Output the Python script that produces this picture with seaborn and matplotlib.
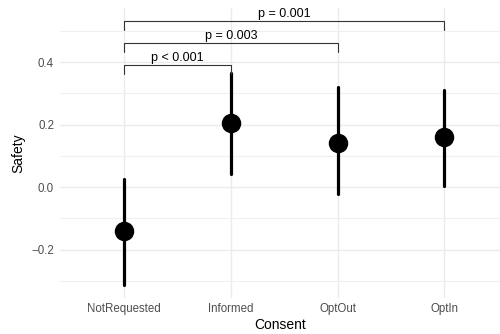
import numpy as np
import pandas as pd
import matplotlib
matplotlib.use("Agg")
import matplotlib.pyplot as plt
import seaborn as sns

categories = ["NotRequested", "Informed", "OptOut", "OptIn"]
means = [-0.141, 0.204, 0.140, 0.161]
ci_low = [-0.314, 0.042, -0.022, 0.003]
ci_high = [0.025, 0.366, 0.321, 0.310]

comparisons = [("NotRequested", "Informed"), ("NotRequested", "OptOut"), ("NotRequested", "OptIn")]
p_labels = ["p < 0.001", "p = 0.003", "p = 0.001"]
bracket_y = [0.390, 0.462, 0.531]
bracket_drop = 0.029

sns.set_theme(style="whitegrid")
plt.rcParams["font.family"] = ["Liberation Sans", "DejaVu Sans"]

rows = []
for c, lo, m, hi in zip(categories, ci_low, means, ci_high):
    for v in (lo, m, hi):
        rows.append({"Consent": c, "Safety": v})
df = pd.DataFrame(rows)

fig = plt.figure(figsize=(5.0, 3.34), dpi=100)
ax = fig.add_axes([0.12, 0.1078, 0.88, 0.868])

sns.pointplot(data=df, x="Consent", y="Safety", order=categories,
              estimator=np.median, errorbar=("pi", 100),
              color="black", linestyle="none", markersize=12,
              err_kws={"linewidth": 2.3}, ax=ax)

ax.set_xlim(-0.6, 3.52)
ax.set_ylim(-0.355, 0.573)
ax.set_yticks([-0.2, 0.0, 0.2, 0.4])
ax.set_yticklabels(["\u22120.2", "0.0", "0.2", "0.4"])
ax.set_yticks([-0.3, -0.1, 0.1, 0.3, 0.5], minor=True)

ax.set_facecolor("white")
for s in ax.spines.values():
    s.set_visible(False)
ax.grid(True, which="major", color="#EBEBEB", linewidth=1.0)
ax.grid(True, which="minor", axis="y", color="#F0F0F0", linewidth=0.8)
ax.set_axisbelow(True)
ax.tick_params(axis="both", which="both", length=0, labelsize=8.3, labelcolor="#4D4D4D")
ax.tick_params(axis="y", pad=4.3)
ax.tick_params(axis="x", pad=3.6)
ax.set_xlabel("Consent", fontsize=10, color="black", labelpad=2)
ax.set_ylabel("Safety", fontsize=10, color="black", labelpad=4)

pos = {c: i for i, c in enumerate(categories)}
for (a, b), lab, yb in zip(comparisons, p_labels, bracket_y):
    xa, xb = pos[a], pos[b]
    ax.plot([xa, xa, xb, xb], [yb - bracket_drop, yb, yb, yb - bracket_drop],
            color="#333333", linewidth=0.8, solid_joinstyle="miter")
    ax.text((xa + xb) / 2, yb + 0.004, lab, ha="center", va="bottom",
            fontsize=9, color="black")

fig.savefig("out.png", dpi=100)
